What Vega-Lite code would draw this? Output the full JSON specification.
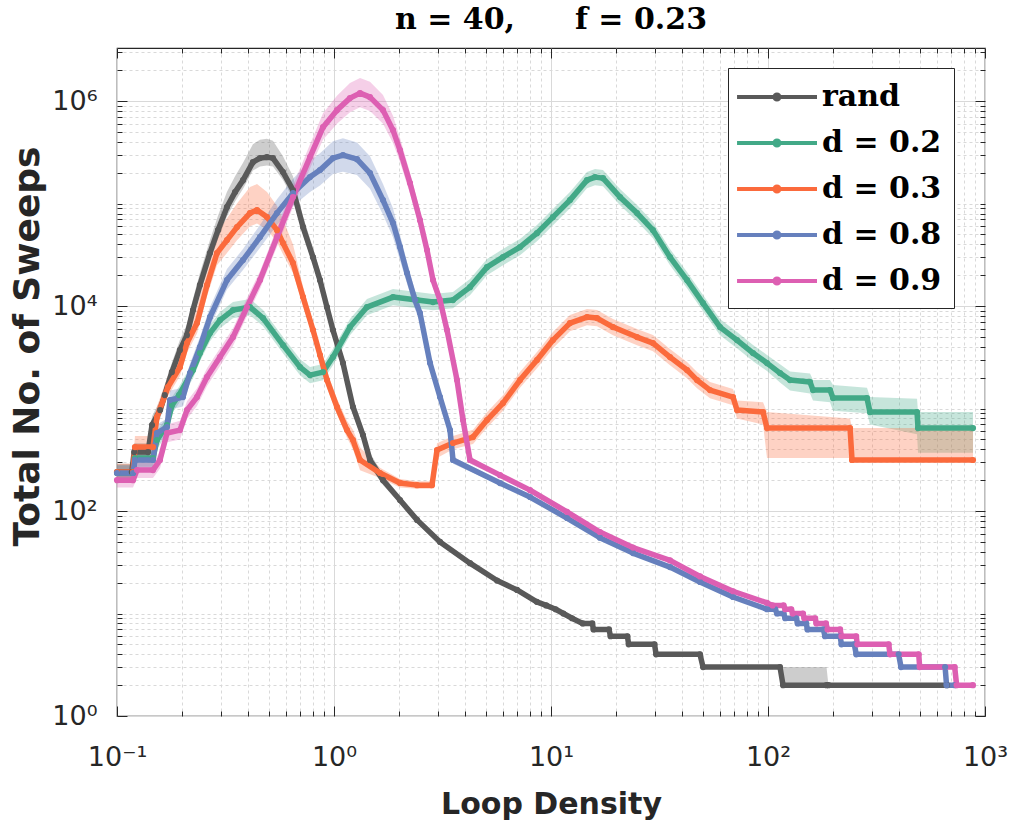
{
  "$schema": "https://vega.github.io/schema/vega-lite/v6.json",
  "width": 868,
  "height": 668,
  "autosize": "none",
  "padding": {"left": 117, "top": 48, "right": 31, "bottom": 111},
  "background": "white",
  "title": {"text": "n = 40,\u2003\u2003f = 0.23", "font": "DejaVu Serif", "fontSize": 30, "fontWeight": "bold", "color": "black", "anchor": "middle", "baseline": "alphabetic", "offset": -21},
  "config": {
    "view": {"stroke": "#262626", "strokeWidth": 1.2},
    "legend": {
      "symbolType": "M-1.33,0H4M1.5,0A0.17,0.17,0,1,1,1.16,0A0.17,0.17,0,1,1,1.5,0",
      "symbolSize": 900, "symbolStrokeWidth": 4, "symbolOpacity": 1,
      "labelFont": "DejaVu Serif", "labelFontWeight": "bold", "labelFontSize": 30, "labelColor": "black",
      "labelOffset": 48, "rowPadding": 14, "padding": 12,
      "strokeColor": "#262626", "fillColor": "white"
    }
  },
  "data": {"values": [
    {"s":"rand","x":0.1,"y":240,"lo":200,"hi":290},
    {"s":"rand","x":0.117,"y":240,"lo":200,"hi":290},
    {"s":"rand","x":0.12,"y":376,"lo":320,"hi":460},
    {"s":"rand","x":0.139,"y":376,"lo":320,"hi":460},
    {"s":"rand","x":0.145,"y":690,"lo":560,"hi":840},
    {"s":"rand","x":0.158,"y":967,"lo":800,"hi":1200},
    {"s":"rand","x":0.166,"y":1355,"lo":1100,"hi":1700},
    {"s":"rand","x":0.179,"y":2270,"lo":1850,"hi":2800},
    {"s":"rand","x":0.195,"y":3720,"lo":3000,"hi":4700},
    {"s":"rand","x":0.21,"y":5200,"lo":4300,"hi":6600},
    {"s":"rand","x":0.224,"y":9140,"lo":7500,"hi":11800},
    {"s":"rand","x":0.241,"y":16000,"lo":13000,"hi":21000},
    {"s":"rand","x":0.268,"y":32900,"lo":27000,"hi":44000},
    {"s":"rand","x":0.292,"y":55100,"lo":45000,"hi":76000},
    {"s":"rand","x":0.321,"y":92400,"lo":75000,"hi":130000},
    {"s":"rand","x":0.35,"y":129500,"lo":105000,"hi":185000},
    {"s":"rand","x":0.381,"y":169500,"lo":140000,"hi":250000},
    {"s":"rand","x":0.423,"y":254000,"lo":210000,"hi":380000},
    {"s":"rand","x":0.456,"y":278000,"lo":230000,"hi":420000},
    {"s":"rand","x":0.491,"y":284000,"lo":235000,"hi":430000},
    {"s":"rand","x":0.523,"y":278000,"lo":230000,"hi":410000},
    {"s":"rand","x":0.582,"y":203000,"lo":170000,"hi":290000},
    {"s":"rand","x":0.647,"y":135500,"lo":112000,"hi":185000},
    {"s":"rand","x":0.72,"y":59000,"lo":50000,"hi":75000},
    {"s":"rand","x":0.8,"y":30000,"lo":25500,"hi":37000},
    {"s":"rand","x":0.862,"y":17900,"lo":15200,"hi":21500},
    {"s":"rand","x":0.928,"y":9780,"lo":8300,"hi":11700},
    {"s":"rand","x":0.989,"y":5830,"lo":5000,"hi":6900},
    {"s":"rand","x":1.1,"y":2780,"lo":2400,"hi":3300},
    {"s":"rand","x":1.223,"y":1035,"lo":880,"hi":1250},
    {"s":"rand","x":1.36,"y":551,"lo":470,"hi":660},
    {"s":"rand","x":1.465,"y":315,"lo":270,"hi":370},
    {"s":"rand","x":1.682,"y":200,"lo":180,"hi":225},
    {"s":"rand","x":2.014,"y":128,"lo":118,"hi":140},
    {"s":"rand","x":2.413,"y":82,"lo":76,"hi":88},
    {"s":"rand","x":3.08,"y":50,"lo":47,"hi":53},
    {"s":"rand","x":4.234,"y":31,"lo":29,"hi":33},
    {"s":"rand","x":5.639,"y":21,"lo":20,"hi":22},
    {"s":"rand","x":6.973,"y":17,"lo":16,"hi":18},
    {"s":"rand","x":8.6,"y":13,"lo":12.3,"hi":13.7},
    {"s":"rand","x":9.5,"y":12,"lo":12,"hi":12},
    {"s":"rand","x":10.5,"y":11,"lo":11,"hi":11},
    {"s":"rand","x":11.4,"y":10,"lo":10,"hi":10},
    {"s":"rand","x":12.5,"y":9,"lo":9,"hi":9},
    {"s":"rand","x":14,"y":8,"lo":8,"hi":8},
    {"s":"rand","x":15.5,"y":8,"lo":8,"hi":8},
    {"s":"rand","x":15.7,"y":7,"lo":7,"hi":7},
    {"s":"rand","x":18.5,"y":7,"lo":7,"hi":7},
    {"s":"rand","x":18.8,"y":6,"lo":6,"hi":6},
    {"s":"rand","x":22.5,"y":6,"lo":6,"hi":6},
    {"s":"rand","x":22.8,"y":5,"lo":5,"hi":5},
    {"s":"rand","x":30,"y":5,"lo":5,"hi":5},
    {"s":"rand","x":30.5,"y":4,"lo":4,"hi":4},
    {"s":"rand","x":48.6,"y":4,"lo":4,"hi":4},
    {"s":"rand","x":50.2,"y":3,"lo":3,"hi":3},
    {"s":"rand","x":113.6,"y":3,"lo":3,"hi":3},
    {"s":"rand","x":117.3,"y":2,"lo":2,"hi":3},
    {"s":"rand","x":186,"y":2,"lo":2,"hi":3},
    {"s":"rand","x":190,"y":2,"lo":2,"hi":2},
    {"s":"rand","x":668,"y":2,"lo":2,"hi":2},

    {"s":"d = 0.2","x":0.1,"y":235,"lo":200,"hi":280},
    {"s":"d = 0.2","x":0.1185,"y":235,"lo":200,"hi":280},
    {"s":"d = 0.2","x":0.121,"y":329,"lo":270,"hi":400},
    {"s":"d = 0.2","x":0.1465,"y":329,"lo":270,"hi":400},
    {"s":"d = 0.2","x":0.1528,"y":493,"lo":400,"hi":600},
    {"s":"d = 0.2","x":0.17,"y":690,"lo":570,"hi":830},
    {"s":"d = 0.2","x":0.1793,"y":1082,"lo":900,"hi":1300},
    {"s":"d = 0.2","x":0.1931,"y":1355,"lo":1130,"hi":1630},
    {"s":"d = 0.2","x":0.224,"y":2376,"lo":1980,"hi":2850},
    {"s":"d = 0.2","x":0.2412,"y":3478,"lo":2900,"hi":4170},
    {"s":"d = 0.2","x":0.2683,"y":5454,"lo":4540,"hi":6540},
    {"s":"d = 0.2","x":0.2983,"y":7298,"lo":6080,"hi":8760},
    {"s":"d = 0.2","x":0.3424,"y":9140,"lo":7620,"hi":10970},
    {"s":"d = 0.2","x":0.4101,"y":9780,"lo":8150,"hi":11740},
    {"s":"d = 0.2","x":0.4709,"y":7638,"lo":6360,"hi":9170},
    {"s":"d = 0.2","x":0.5821,"y":4166,"lo":3470,"hi":5000},
    {"s":"d = 0.2","x":0.6973,"y":2540,"lo":2120,"hi":3050},
    {"s":"d = 0.2","x":0.7753,"y":2123,"lo":1770,"hi":2550},
    {"s":"d = 0.2","x":0.8899,"y":2270,"lo":1890,"hi":2720},
    {"s":"d = 0.2","x":0.989,"y":3179,"lo":2650,"hi":3810},
    {"s":"d = 0.2","x":1.185,"y":6240,"lo":5200,"hi":7490},
    {"s":"d = 0.2","x":1.419,"y":9780,"lo":8150,"hi":11740},
    {"s":"d = 0.2","x":1.87,"y":12240,"lo":10200,"hi":14690},
    {"s":"d = 0.2","x":2.413,"y":11450,"lo":9540,"hi":13740},
    {"s":"d = 0.2","x":2.859,"y":10940,"lo":9120,"hi":13130},
    {"s":"d = 0.2","x":3.535,"y":11450,"lo":9540,"hi":13740},
    {"s":"d = 0.2","x":4.234,"y":15310,"lo":12760,"hi":18370},
    {"s":"d = 0.2","x":5.071,"y":23990,"lo":19990,"hi":28790},
    {"s":"d = 0.2","x":6.009,"y":30060,"lo":25050,"hi":36070},
    {"s":"d = 0.2","x":7.196,"y":37660,"lo":31380,"hi":45190},
    {"s":"d = 0.2","x":8.619,"y":51520,"lo":42930,"hi":61820},
    {"s":"d = 0.2","x":10.21,"y":73830,"lo":61530,"hi":88600},
    {"s":"d = 0.2","x":12.23,"y":108200,"lo":90170,"hi":129800},
    {"s":"d = 0.2","x":14.65,"y":169500,"lo":141300,"hi":203400},
    {"s":"d = 0.2","x":15.95,"y":181400,"lo":151200,"hi":217700},
    {"s":"d = 0.2","x":17.36,"y":177300,"lo":147800,"hi":212800},
    {"s":"d = 0.2","x":20.8,"y":115700,"lo":96400,"hi":138800},
    {"s":"d = 0.2","x":24.91,"y":80780,"lo":67300,"hi":96900},
    {"s":"d = 0.2","x":29.51,"y":55110,"lo":45900,"hi":66100},
    {"s":"d = 0.2","x":35.35,"y":30060,"lo":25050,"hi":36070},
    {"s":"d = 0.2","x":42.35,"y":17940,"lo":14950,"hi":21530},
    {"s":"d = 0.2","x":50.18,"y":10690,"lo":8900,"hi":12830},
    {"s":"d = 0.2","x":60.09,"y":6240,"lo":5200,"hi":7490},
    {"s":"d = 0.2","x":71.96,"y":4660,"lo":3880,"hi":5590},
    {"s":"d = 0.2","x":85.29,"y":3478,"lo":2900,"hi":4170},
    {"s":"d = 0.2","x":98.95,"y":2780,"lo":2320,"hi":3340},
    {"s":"d = 0.2","x":113.6,"y":2220,"lo":1800,"hi":2700},
    {"s":"d = 0.2","x":126.3,"y":1897,"lo":1500,"hi":2300},
    {"s":"d = 0.2","x":156.2,"y":1814,"lo":1400,"hi":2200},
    {"s":"d = 0.2","x":161.2,"y":1514,"lo":1200,"hi":1900},
    {"s":"d = 0.2","x":193.1,"y":1514,"lo":1150,"hi":1900},
    {"s":"d = 0.2","x":199.4,"y":1266,"lo":950,"hi":1700},
    {"s":"d = 0.2","x":285.9,"y":1266,"lo":900,"hi":1600},
    {"s":"d = 0.2","x":295.1,"y":924,"lo":700,"hi":1300},
    {"s":"d = 0.2","x":486.2,"y":924,"lo":560,"hi":1250},
    {"s":"d = 0.2","x":491.3,"y":645,"lo":370,"hi":924},
    {"s":"d = 0.2","x":880.6,"y":645,"lo":370,"hi":924},

    {"s":"d = 0.3","x":0.1,"y":240,"lo":200,"hi":290},
    {"s":"d = 0.3","x":0.1185,"y":240,"lo":200,"hi":290},
    {"s":"d = 0.3","x":0.121,"y":421,"lo":340,"hi":540},
    {"s":"d = 0.3","x":0.1465,"y":421,"lo":340,"hi":540},
    {"s":"d = 0.3","x":0.1528,"y":826,"lo":680,"hi":1050},
    {"s":"d = 0.3","x":0.1718,"y":1622,"lo":1330,"hi":2100},
    {"s":"d = 0.3","x":0.1951,"y":2540,"lo":2080,"hi":3400},
    {"s":"d = 0.3","x":0.2102,"y":4355,"lo":3500,"hi":6000},
    {"s":"d = 0.3","x":0.2337,"y":6826,"lo":5400,"hi":9800},
    {"s":"d = 0.3","x":0.2599,"y":16030,"lo":12500,"hi":24000},
    {"s":"d = 0.3","x":0.2889,"y":32880,"lo":25000,"hi":52000},
    {"s":"d = 0.3","x":0.3212,"y":44050,"lo":33000,"hi":72000},
    {"s":"d = 0.3","x":0.3573,"y":59000,"lo":44000,"hi":100000},
    {"s":"d = 0.3","x":0.4101,"y":80780,"lo":60000,"hi":145000},
    {"s":"d = 0.3","x":0.4417,"y":86500,"lo":64000,"hi":155000},
    {"s":"d = 0.3","x":0.4913,"y":73830,"lo":56000,"hi":130000},
    {"s":"d = 0.3","x":0.5462,"y":55110,"lo":42000,"hi":95000},
    {"s":"d = 0.3","x":0.5821,"y":41180,"lo":32000,"hi":70000},
    {"s":"d = 0.3","x":0.6473,"y":26280,"lo":21000,"hi":40000},
    {"s":"d = 0.3","x":0.7197,"y":12240,"lo":10200,"hi":15500},
    {"s":"d = 0.3","x":0.8002,"y":5834,"lo":4900,"hi":7000},
    {"s":"d = 0.3","x":0.862,"y":3326,"lo":2800,"hi":4000},
    {"s":"d = 0.3","x":0.9284,"y":1897,"lo":1600,"hi":2300},
    {"s":"d = 0.3","x":1.032,"y":1035,"lo":880,"hi":1250},
    {"s":"d = 0.3","x":1.148,"y":617,"lo":520,"hi":760},
    {"s":"d = 0.3","x":1.223,"y":493,"lo":400,"hi":620},
    {"s":"d = 0.3","x":1.318,"y":315,"lo":250,"hi":420},
    {"s":"d = 0.3","x":1.629,"y":235,"lo":210,"hi":265},
    {"s":"d = 0.3","x":2.014,"y":188,"lo":170,"hi":205},
    {"s":"d = 0.3","x":2.413,"y":179,"lo":165,"hi":195},
    {"s":"d = 0.3","x":2.829,"y":179,"lo":165,"hi":195},
    {"s":"d = 0.3","x":2.983,"y":394,"lo":330,"hi":460},
    {"s":"d = 0.3","x":3.535,"y":461,"lo":400,"hi":540},
    {"s":"d = 0.3","x":4.371,"y":527,"lo":450,"hi":620},
    {"s":"d = 0.3","x":5.071,"y":772,"lo":650,"hi":920},
    {"s":"d = 0.3","x":6.009,"y":1132,"lo":950,"hi":1350},
    {"s":"d = 0.3","x":7.196,"y":1897,"lo":1600,"hi":2280},
    {"s":"d = 0.3","x":8.619,"y":2973,"lo":2480,"hi":3560},
    {"s":"d = 0.3","x":10.21,"y":4660,"lo":3880,"hi":5590},
    {"s":"d = 0.3","x":12.23,"y":6826,"lo":5690,"hi":8190},
    {"s":"d = 0.3","x":14.65,"y":7815,"lo":6510,"hi":9380},
    {"s":"d = 0.3","x":16.29,"y":7638,"lo":6360,"hi":9170},
    {"s":"d = 0.3","x":19.31,"y":6240,"lo":5200,"hi":7490},
    {"s":"d = 0.3","x":24.91,"y":4986,"lo":4150,"hi":5980},
    {"s":"d = 0.3","x":29.51,"y":4355,"lo":3630,"hi":5230},
    {"s":"d = 0.3","x":35.35,"y":3179,"lo":2650,"hi":3810},
    {"s":"d = 0.3","x":42.35,"y":2376,"lo":1980,"hi":2850},
    {"s":"d = 0.3","x":47.09,"y":1897,"lo":1580,"hi":2280},
    {"s":"d = 0.3","x":54.04,"y":1514,"lo":1260,"hi":1820},
    {"s":"d = 0.3","x":68.98,"y":1295,"lo":1080,"hi":1550},
    {"s":"d = 0.3","x":71.96,"y":967,"lo":800,"hi":1200},
    {"s":"d = 0.3","x":94.84,"y":924,"lo":700,"hi":1150},
    {"s":"d = 0.3","x":98.95,"y":645,"lo":330,"hi":924},
    {"s":"d = 0.3","x":238.8,"y":645,"lo":330,"hi":800},
    {"s":"d = 0.3","x":243.9,"y":315,"lo":315,"hi":645},
    {"s":"d = 0.3","x":880.6,"y":315,"lo":315,"hi":645},

    {"s":"d = 0.8","x":0.1,"y":235,"lo":200,"hi":280},
    {"s":"d = 0.8","x":0.1185,"y":235,"lo":200,"hi":280},
    {"s":"d = 0.8","x":0.121,"y":315,"lo":260,"hi":380},
    {"s":"d = 0.8","x":0.1465,"y":315,"lo":260,"hi":380},
    {"s":"d = 0.8","x":0.1528,"y":577,"lo":470,"hi":700},
    {"s":"d = 0.8","x":0.17,"y":660,"lo":540,"hi":800},
    {"s":"d = 0.8","x":0.1755,"y":1211,"lo":980,"hi":1500},
    {"s":"d = 0.8","x":0.2014,"y":1295,"lo":1050,"hi":1600},
    {"s":"d = 0.8","x":0.217,"y":2220,"lo":1800,"hi":2750},
    {"s":"d = 0.8","x":0.2412,"y":3981,"lo":3200,"hi":5000},
    {"s":"d = 0.8","x":0.2683,"y":7815,"lo":6300,"hi":9800},
    {"s":"d = 0.8","x":0.3212,"y":17940,"lo":14500,"hi":23000},
    {"s":"d = 0.8","x":0.3807,"y":28110,"lo":22500,"hi":36000},
    {"s":"d = 0.8","x":0.456,"y":47100,"lo":37000,"hi":62000},
    {"s":"d = 0.8","x":0.5462,"y":80780,"lo":62000,"hi":110000},
    {"s":"d = 0.8","x":0.6473,"y":126600,"lo":95000,"hi":175000},
    {"s":"d = 0.8","x":0.7753,"y":181400,"lo":130000,"hi":260000},
    {"s":"d = 0.8","x":0.862,"y":212300,"lo":150000,"hi":310000},
    {"s":"d = 0.8","x":0.989,"y":277900,"lo":195000,"hi":405000},
    {"s":"d = 0.8","x":1.1,"y":297200,"lo":205000,"hi":435000},
    {"s":"d = 0.8","x":1.276,"y":271600,"lo":190000,"hi":395000},
    {"s":"d = 0.8","x":1.465,"y":198500,"lo":140000,"hi":290000},
    {"s":"d = 0.8","x":1.682,"y":108200,"lo":78000,"hi":155000},
    {"s":"d = 0.8","x":1.87,"y":64550,"lo":47000,"hi":90000},
    {"s":"d = 0.8","x":2.014,"y":37660,"lo":28000,"hi":50000},
    {"s":"d = 0.8","x":2.17,"y":20990,"lo":16500,"hi":27000},
    {"s":"d = 0.8","x":2.362,"y":11450,"lo":9300,"hi":14000},
    {"s":"d = 0.8","x":2.49,"y":8547,"lo":7000,"hi":10400},
    {"s":"d = 0.8","x":2.77,"y":2780,"lo":2350,"hi":3300},
    {"s":"d = 0.8","x":3.08,"y":1295,"lo":1100,"hi":1530},
    {"s":"d = 0.8","x":3.424,"y":617,"lo":530,"hi":720},
    {"s":"d = 0.8","x":3.535,"y":315,"lo":290,"hi":340},
    {"s":"d = 0.8","x":5.821,"y":187.6,"lo":180,"hi":195},
    {"s":"d = 0.8","x":8.003,"y":137,"lo":132,"hi":142},
    {"s":"d = 0.8","x":11.85,"y":85.5,"lo":82,"hi":89},
    {"s":"d = 0.8","x":16.8,"y":55,"lo":53,"hi":57},
    {"s":"d = 0.8","x":23.87,"y":38.9,"lo":37.5,"hi":40.3},
    {"s":"d = 0.8","x":35.35,"y":28.4,"lo":27.5,"hi":29.3},
    {"s":"d = 0.8","x":48.62,"y":20.3,"lo":19.7,"hi":20.9},
    {"s":"d = 0.8","x":68.98,"y":14.5,"lo":14,"hi":15},
    {"s":"d = 0.8","x":98.95,"y":11,"lo":11,"hi":11},
    {"s":"d = 0.8","x":108,"y":11,"lo":11,"hi":11},
    {"s":"d = 0.8","x":110,"y":10,"lo":10,"hi":10},
    {"s":"d = 0.8","x":118,"y":10,"lo":10,"hi":10},
    {"s":"d = 0.8","x":120,"y":9,"lo":9,"hi":9},
    {"s":"d = 0.8","x":135,"y":9,"lo":9,"hi":9},
    {"s":"d = 0.8","x":137,"y":8,"lo":8,"hi":8},
    {"s":"d = 0.8","x":150,"y":8,"lo":8,"hi":8},
    {"s":"d = 0.8","x":152,"y":7,"lo":7,"hi":7},
    {"s":"d = 0.8","x":180,"y":7,"lo":7,"hi":7},
    {"s":"d = 0.8","x":183,"y":6,"lo":6,"hi":6},
    {"s":"d = 0.8","x":215,"y":6,"lo":6,"hi":6},
    {"s":"d = 0.8","x":218,"y":5,"lo":5,"hi":5},
    {"s":"d = 0.8","x":250,"y":5,"lo":5,"hi":5},
    {"s":"d = 0.8","x":255,"y":4,"lo":4,"hi":4},
    {"s":"d = 0.8","x":400,"y":4,"lo":4,"hi":4},
    {"s":"d = 0.8","x":410,"y":3,"lo":3,"hi":3},
    {"s":"d = 0.8","x":655,"y":3,"lo":3,"hi":3},
    {"s":"d = 0.8","x":665,"y":2,"lo":2,"hi":2},
    {"s":"d = 0.8","x":727,"y":2,"lo":2,"hi":2},

    {"s":"d = 0.9","x":0.1,"y":200,"lo":170,"hi":235},
    {"s":"d = 0.9","x":0.1185,"y":200,"lo":170,"hi":235},
    {"s":"d = 0.9","x":0.1237,"y":251,"lo":210,"hi":300},
    {"s":"d = 0.9","x":0.1465,"y":251,"lo":210,"hi":300},
    {"s":"d = 0.9","x":0.1578,"y":315,"lo":260,"hi":380},
    {"s":"d = 0.9","x":0.17,"y":577,"lo":470,"hi":700},
    {"s":"d = 0.9","x":0.1951,"y":617,"lo":500,"hi":760},
    {"s":"d = 0.9","x":0.2102,"y":967,"lo":790,"hi":1180},
    {"s":"d = 0.9","x":0.2337,"y":1295,"lo":1060,"hi":1580},
    {"s":"d = 0.9","x":0.2599,"y":2029,"lo":1660,"hi":2480},
    {"s":"d = 0.9","x":0.2983,"y":3179,"lo":2600,"hi":3880},
    {"s":"d = 0.9","x":0.3424,"y":4986,"lo":4080,"hi":6090},
    {"s":"d = 0.9","x":0.3972,"y":9780,"lo":8000,"hi":12000},
    {"s":"d = 0.9","x":0.456,"y":17940,"lo":14700,"hi":21900},
    {"s":"d = 0.9","x":0.5462,"y":47100,"lo":38000,"hi":58000},
    {"s":"d = 0.9","x":0.6473,"y":115700,"lo":92000,"hi":150000},
    {"s":"d = 0.9","x":0.7753,"y":284300,"lo":220000,"hi":380000},
    {"s":"d = 0.9","x":0.8899,"y":557600,"lo":420000,"hi":760000},
    {"s":"d = 0.9","x":1.032,"y":817000,"lo":600000,"hi":1130000},
    {"s":"d = 0.9","x":1.185,"y":1070000,"lo":780000,"hi":1500000},
    {"s":"d = 0.9","x":1.318,"y":1197000,"lo":870000,"hi":1680000},
    {"s":"d = 0.9","x":1.465,"y":1094000,"lo":800000,"hi":1550000},
    {"s":"d = 0.9","x":1.682,"y":817000,"lo":600000,"hi":1150000},
    {"s":"d = 0.9","x":1.87,"y":521000,"lo":390000,"hi":720000},
    {"s":"d = 0.9","x":2.014,"y":332600,"lo":255000,"hi":440000},
    {"s":"d = 0.9","x":2.24,"y":158500,"lo":125000,"hi":200000},
    {"s":"d = 0.9","x":2.49,"y":69000,"lo":56000,"hi":85000},
    {"s":"d = 0.9","x":2.683,"y":35170,"lo":29000,"hi":42000},
    {"s":"d = 0.9","x":2.859,"y":17940,"lo":15000,"hi":21500},
    {"s":"d = 0.9","x":3.08,"y":11450,"lo":9700,"hi":13500},
    {"s":"d = 0.9","x":3.317,"y":5834,"lo":5000,"hi":6800},
    {"s":"d = 0.9","x":3.688,"y":1897,"lo":1650,"hi":2180},
    {"s":"d = 0.9","x":3.931,"y":772,"lo":680,"hi":880},
    {"s":"d = 0.9","x":4.234,"y":315,"lo":290,"hi":340},
    {"s":"d = 0.9","x":5.821,"y":224,"lo":215,"hi":234},
    {"s":"d = 0.9","x":8.003,"y":160,"lo":155,"hi":165},
    {"s":"d = 0.9","x":11.85,"y":98,"lo":95,"hi":101},
    {"s":"d = 0.9","x":16.8,"y":62.4,"lo":60,"hi":65},
    {"s":"d = 0.9","x":23.87,"y":44,"lo":42.5,"hi":45.5},
    {"s":"d = 0.9","x":35.35,"y":33,"lo":32,"hi":34},
    {"s":"d = 0.9","x":48.62,"y":23,"lo":22.3,"hi":23.7},
    {"s":"d = 0.9","x":68.98,"y":16.5,"lo":16,"hi":17},
    {"s":"d = 0.9","x":98.95,"y":12.7,"lo":12.7,"hi":12.7},
    {"s":"d = 0.9","x":105,"y":12,"lo":12,"hi":12},
    {"s":"d = 0.9","x":118,"y":12,"lo":12,"hi":12},
    {"s":"d = 0.9","x":120,"y":11,"lo":11,"hi":11},
    {"s":"d = 0.9","x":128,"y":11,"lo":11,"hi":11},
    {"s":"d = 0.9","x":130,"y":10,"lo":10,"hi":10},
    {"s":"d = 0.9","x":145,"y":10,"lo":10,"hi":10},
    {"s":"d = 0.9","x":147,"y":9,"lo":9,"hi":9},
    {"s":"d = 0.9","x":165,"y":9,"lo":9,"hi":9},
    {"s":"d = 0.9","x":167,"y":8,"lo":8,"hi":8},
    {"s":"d = 0.9","x":185,"y":8,"lo":8,"hi":8},
    {"s":"d = 0.9","x":188,"y":7,"lo":7,"hi":7},
    {"s":"d = 0.9","x":215,"y":7,"lo":7,"hi":7},
    {"s":"d = 0.9","x":218,"y":6,"lo":6,"hi":6},
    {"s":"d = 0.9","x":255,"y":6,"lo":6,"hi":6},
    {"s":"d = 0.9","x":258,"y":5,"lo":5,"hi":5},
    {"s":"d = 0.9","x":360,"y":5,"lo":5,"hi":5},
    {"s":"d = 0.9","x":365,"y":4,"lo":4,"hi":4},
    {"s":"d = 0.9","x":495,"y":4,"lo":4,"hi":4},
    {"s":"d = 0.9","x":500,"y":3,"lo":3,"hi":3},
    {"s":"d = 0.9","x":725,"y":3,"lo":3,"hi":3},
    {"s":"d = 0.9","x":740,"y":2,"lo":2,"hi":2},
    {"s":"d = 0.9","x":880,"y":2,"lo":2,"hi":2}
  ]},
  "resolve": {"axis": {"x": "independent", "y": "independent"}},
  "layer": [
    {
      "mark": {"type": "area", "opacity": 0.3, "interpolate": "linear"},
      "encoding": {
        "x": {"field": "x", "type": "quantitative", "scale": {"type": "log", "domain": [0.1, 1000], "nice": false},
          "axis": {"orient": "top", "values": [0.1,0.2,0.3,0.4,0.5,0.6,0.7,0.8,0.9,1,2,3,4,5,6,7,8,9,10,20,30,40,50,60,70,80,90,100,200,300,400,500,600,700,800,900,1000],
            "labels": false, "grid": false, "domain": false, "title": null, "tickColor": "#262626",
            "tickSize": {"condition": {"test": "indexof([0.1,1,10,100,1000], datum.value) >= 0", "value": -10}, "value": -5}}},
        "y": {"field": "lo", "type": "quantitative", "scale": {"type": "log", "domain": [1, 3300000], "nice": false},
          "axis": {"orient": "right", "values": [1,2,3,4,5,6,7,8,9,10,20,30,40,50,60,70,80,90,100,200,300,400,500,600,700,800,900,1000,2000,3000,4000,5000,6000,7000,8000,9000,10000,20000,30000,40000,50000,60000,70000,80000,90000,100000,200000,300000,400000,500000,600000,700000,800000,900000,1000000,2000000,3000000],
            "labels": false, "grid": false, "domain": false, "title": null, "tickColor": "#262626",
            "tickSize": {"condition": {"test": "indexof([1,100,10000,1000000], datum.value) >= 0", "value": -10}, "value": -5}}},
        "y2": {"field": "hi"},
        "color": {"field": "s", "type": "nominal",
          "scale": {"domain": ["rand", "d = 0.2", "d = 0.3", "d = 0.8", "d = 0.9"], "range": ["#595959", "#42a987", "#fb6a3c", "#6680bd", "#dd5fb2"]},
          "legend": {"orient": "none", "legendX": 611, "legendY": 20, "title": null}}
      }
    },
    {
      "mark": {"type": "line", "strokeWidth": 5.5, "strokeJoin": "round"},
      "encoding": {
        "x": {"field": "x", "type": "quantitative", "scale": {"type": "log", "domain": [0.1, 1000], "nice": false},
          "axis": {"orient": "bottom", "values": [0.1,0.2,0.3,0.4,0.5,0.6,0.7,0.8,0.9,1,2,3,4,5,6,7,8,9,10,20,30,40,50,60,70,80,90,100,200,300,400,500,600,700,800,900,1000],
            "labelExpr": "datum.value == 0.1 ? '10\u207b\u00b9' : datum.value == 1 ? '10\u2070' : datum.value == 10 ? '10\u00b9' : datum.value == 100 ? '10\u00b2' : datum.value == 1000 ? '10\u00b3' : ''",
            "labelOverlap": false, "labelFlush": false, "labelBound": false,
            "grid": true, "gridColor": "#d9d9d9", "gridWidth": 1,
            "gridDash": {"condition": {"test": "indexof([0.1,1,10,100,1000], datum.value) >= 0", "value": []}, "value": [3, 3]},
            "domain": false, "tickColor": "#262626",
            "tickSize": {"condition": {"test": "indexof([0.1,1,10,100,1000], datum.value) >= 0", "value": -10}, "value": -5},
            "labelFont": "DejaVu Sans", "labelFontSize": 27, "labelColor": "#262626", "labelPadding": 38,
            "title": "Loop Density", "titleFont": "DejaVu Sans", "titleFontSize": 30, "titleFontWeight": "bold", "titleColor": "#262626", "titlePadding": 14}},
        "y": {"field": "y", "type": "quantitative", "scale": {"type": "log", "domain": [1, 3300000], "nice": false},
          "axis": {"orient": "left", "values": [1,2,3,4,5,6,7,8,9,10,20,30,40,50,60,70,80,90,100,200,300,400,500,600,700,800,900,1000,2000,3000,4000,5000,6000,7000,8000,9000,10000,20000,30000,40000,50000,60000,70000,80000,90000,100000,200000,300000,400000,500000,600000,700000,800000,900000,1000000,2000000,3000000],
            "labelExpr": "datum.value == 1 ? '10\u2070' : datum.value == 100 ? '10\u00b2' : datum.value == 10000 ? '10\u2074' : datum.value == 1000000 ? '10\u2076' : ''",
            "labelOverlap": false, "labelFlush": false, "labelBound": false,
            "grid": true, "gridColor": "#d9d9d9", "gridWidth": 1,
            "gridDash": {"condition": {"test": "indexof([1,100,10000,1000000], datum.value) >= 0", "value": []}, "value": [3, 3]},
            "domain": false, "tickColor": "#262626",
            "tickSize": {"condition": {"test": "indexof([1,100,10000,1000000], datum.value) >= 0", "value": -10}, "value": -5},
            "labelFont": "DejaVu Sans", "labelFontSize": 27, "labelColor": "#262626", "labelPadding": 30,
            "title": "Total No. of Sweeps", "titleFont": "DejaVu Sans", "titleFontSize": 36, "titleFontWeight": "bold", "titleColor": "#262626", "titlePadding": 9,
            "titleX": -71, "titleY": 298}},
        "color": {"field": "s", "type": "nominal",
          "scale": {"domain": ["rand", "d = 0.2", "d = 0.3", "d = 0.8", "d = 0.9"], "range": ["#595959", "#42a987", "#fb6a3c", "#6680bd", "#dd5fb2"]},
          "legend": {"orient": "none", "legendX": 611, "legendY": 20, "title": null}}
      }
    },
    {
      "mark": {"type": "point", "filled": true, "size": 38, "opacity": 1},
      "encoding": {
        "x": {"field": "x", "type": "quantitative", "scale": {"type": "log", "domain": [0.1, 1000], "nice": false}, "axis": null},
        "y": {"field": "y", "type": "quantitative", "scale": {"type": "log", "domain": [1, 3300000], "nice": false}, "axis": null},
        "color": {"field": "s", "type": "nominal",
          "scale": {"domain": ["rand", "d = 0.2", "d = 0.3", "d = 0.8", "d = 0.9"], "range": ["#595959", "#42a987", "#fb6a3c", "#6680bd", "#dd5fb2"]},
          "legend": {"orient": "none", "legendX": 611, "legendY": 20, "title": null}}
      }
    }
  ]
}
